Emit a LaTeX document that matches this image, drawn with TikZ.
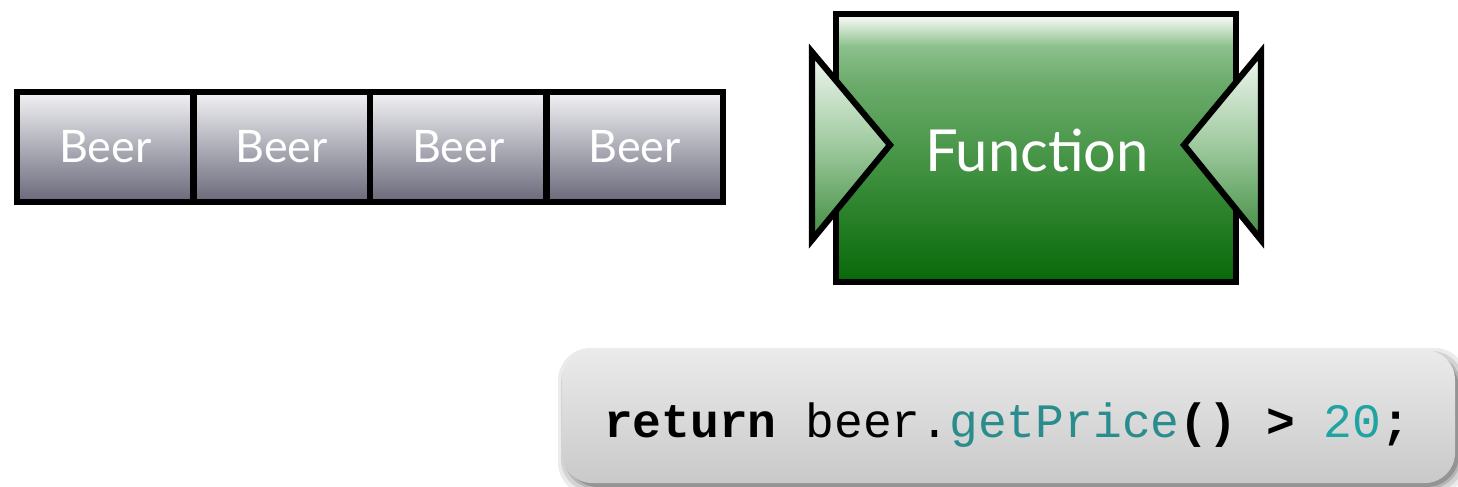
\documentclass[tikz,border=0pt]{standalone}
\usepackage{fontspec}
\setmainfont{Lato}
\setmonofont{Liberation Mono}
\usetikzlibrary{shadows,calc}
\definecolor{codeteal}{HTML}{2A8C8C}
\definecolor{numteal}{HTML}{1FA3A3}
\pgfdeclareverticalshading{fnshade}{100bp}{rgb(0bp)=(0.03,0.41,0.03); rgb(25bp)=(0.03,0.41,0.03); rgb(45bp)=(0.24,0.56,0.24); rgb(62bp)=(0.42,0.67,0.42); rgb(69bp)=(0.55,0.75,0.55); rgb(74bp)=(0.93,0.96,0.93); rgb(100bp)=(0.95,0.97,0.95)}
\pgfdeclareverticalshading{portshade}{100bp}{rgb(0bp)=(0.25,0.55,0.25); rgb(25bp)=(0.25,0.55,0.25); rgb(50bp)=(0.62,0.79,0.62); rgb(75bp)=(0.95,0.97,0.95); rgb(100bp)=(0.95,0.97,0.95)}
\begin{document}
\begin{tikzpicture}[x=0.02cm,y=-0.02cm,
  beercell/.style={draw=black, line width=3.5pt, top color={rgb,1:red,0.95;green,0.95;blue,0.96}, bottom color={rgb,1:red,0.41;green,0.41;blue,0.48}, minimum width=176.5*0.02cm, minimum height=110*0.02cm, inner sep=0pt, text=white, font=\fontsize{25.5}{28}\selectfont},
  fnbox/.style={draw=black, line width=3.5pt, inner sep=0pt},
  port/.style={draw=black, line width=3.5pt, line join=miter, shading=portshade},
  codebox/.style={rounded corners=0.6cm, top color=white!92!black, bottom color=white!79!black},
  ]
\useasboundingbox (0,0) rectangle (1458,487);
% beer cells
\node[beercell] (b1) at (105.25,147) {Beer};
\node[beercell] (b2) at (281.75,147) {Beer};
\node[beercell] (b3) at (458.25,147) {Beer};
\node[beercell] (b4) at (634.75,147) {Beer};
% function box
\shade[shading=fnshade] (836,14) rectangle (1236,282);
\node[fnbox, minimum width=400*0.02cm, minimum height=268*0.02cm] (fn) at (1036,148) {};
\node[text=white, font=\fontsize{33}{38}\selectfont] (fnlabel) at (1037,150) {Function};
% ports
\draw[port] (812,52) -- (890,145) -- (812,240) -- cycle;
\draw[port] (1261,52) -- (1184,145) -- (1261,240) -- cycle;
% code box shadow (soft)
\foreach \i/\o in {10/0.08,7/0.1,4/0.14,2/0.18}{
  \fill[black, opacity=\o, rounded corners=0.65cm] (562-\i+6,350-\i+8) rectangle (1455+\i+2,483+\i+2);
}
\path[codebox] (562,350) rectangle (1455,483);
\node[font=\ttfamily\fontsize{27.3}{32}\selectfont, anchor=base] (code) at (1007,437)
  {\textbf{return} beer.\textcolor{codeteal}{getPrice}\textbf{()} \textbf{>} \textcolor{numteal}{20}\textbf{;}};
\end{tikzpicture}
\end{document}
